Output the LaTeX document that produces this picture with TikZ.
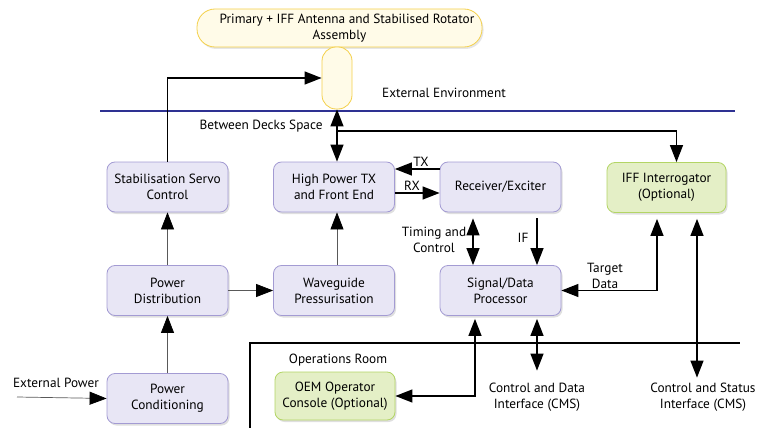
\documentclass[tikz,border=0pt]{standalone}
\usepackage{fontspec}
\setmainfont{PT Sans}
\usetikzlibrary{arrows.meta,calc,shadows}
\definecolor{boxfill}{HTML}{E8E6F5}
\definecolor{boxline}{HTML}{A39BD3}
\definecolor{grnfill}{HTML}{E4EFC6}
\definecolor{grnline}{HTML}{B3D565}
\definecolor{yelfill}{HTML}{FFFBE8}
\definecolor{yelline}{HTML}{F4D04A}
\definecolor{navyline}{HTML}{2E3192}
\begin{document}
\begin{tikzpicture}[x=1pt,y=-1pt,
  font=\fontsize{13.3}{16}\selectfont,
  tip/.tip={Triangle[length=17pt,width=13pt,color=black]},
  box/.style={draw=boxline, fill=boxfill, rounded corners=8pt, line width=0.8pt,
    minimum width=121pt, minimum height=50pt, align=center, inner sep=2pt,
    drop shadow={shadow xshift=1.5pt,shadow yshift=-2pt,opacity=0.25}},
  gbox/.style={box, draw=grnline, fill=grnfill},
  blk/.style={line width=1.3pt, black},
  gry/.style={line width=0.7pt, draw=black!65},
  lbl/.style={align=center, inner sep=0pt}]
\useasboundingbox (0,0) rectangle (769,428);
% lines
\draw[navyline, line width=1pt] (100,111) -- (735,111);
\coordinate (opsA) at (250,428);
\coordinate (opsB) at (250,343);
\coordinate (opsC) at (740,343);
\draw[blk] (opsA) -- (opsB) -- (opsC);
% antenna
\node[draw=yelline, fill=yelfill, line width=0.8pt, rounded corners=18pt,
  minimum width=285pt, minimum height=38pt, align=center, inner sep=2pt,
  drop shadow={shadow xshift=1.5pt,shadow yshift=-2pt,opacity=0.2}] (ant) at (339.5,28)
  {\hspace*{15pt}Primary + IFF Antenna and Stabilised Rotator\\Assembly};
\node[draw=yelline, fill=yelfill, line width=0.8pt, rounded corners=14pt,
  minimum width=30pt, minimum height=62pt, inner sep=0pt] (pill) at (337,78) {};
% boxes
\node[box] (ssc) at (167.5,187) {Stabilisation Servo\\Control};
\node[box] (hptx) at (334,187) {High Power TX\\and Front End};
\node[box] (rx) at (500.5,187) {Receiver/Exciter};
\node[gbox, minimum width=119pt] (iff) at (666.5,187.5) {IFF Interrogator\\(Optional)};
\node[box] (pd) at (167.5,290.5) {Power\\Distribution};
\node[box] (wp) at (334,290.5) {Waveguide\\Pressurisation};
\node[box] (sdp) at (500.5,290.5) {Signal/Data\\Processor};
\node[box] (pc) at (167.5,398.5) {Power\\Conditioning};
\node[gbox, minimum width=120pt, minimum height=48pt] (oem) at (335,396) {OEM Operator\\Console (Optional)};
% labels
\node[lbl] (extenv) at (444,93) {External Environment};
\node[lbl] (bds) at (261,126) {Between Decks Space};
\node[lbl] (opsroom) at (338,360) {Operations Room};
\node[lbl] (extpow) at (56,383) {External Power};
\node[lbl] (tclbl) at (434,240) {Timing and\\Control};
\node[lbl] (iflbl) at (523,238) {IF};
\node[lbl] (txlbl) at (421,162) {TX};
\node[lbl] (rxlbl) at (412,186) {RX};
\node[lbl] (tdlbl) at (605,276) {Target\\Data};
\node[lbl] (cds) at (537,397) {Control and Data\\Interface (CMS)};
\node[lbl] (css) at (703,397) {Control and Status\\Interface (CMS)};
\coordinate (extsrc) at (17,397);
% black connectors
\draw[blk, -tip] (ssc.north) |- (pill.west);
\draw[blk, tip-tip] (pill.south) -- (hptx.north -| pill.south);
\draw[blk, -tip] (pill.south |- 0,131) -| ($(iff.north)+(10,0)$);
\draw[blk, -tip] (rx.west |- 0,169) -- (hptx.east |- 0,169);
\draw[blk, -tip] (hptx.east |- 0,193) -- (rx.west |- 0,193);
\draw[blk, tip-tip, shorten <=6pt] (rx.south -| 473,0) -- (sdp.north -| 473,0);
\draw[blk, -tip, shorten <=6pt] (rx.south -| 537,0) -- (sdp.north -| 537,0);
\draw[blk, tip-tip, shorten <=6pt] (iff.south -| 657,0) |- (sdp.east);
\draw[blk, tip-tip, shorten <=6pt, shorten >=5pt] (iff.south -| 697,0) -- (css.north -| 697,0);
\draw[blk, tip-tip, shorten <=3pt, shorten >=12pt] (sdp.south -| 537,0) -- (cds.north -| 537,0);
\draw[blk, tip-tip, shorten <=3pt] (sdp.south -| 475,0) |- (oem.east);
% grey connectors
\draw[gry, -tip] (pd.north) -- (ssc.south);
\draw[gry, -tip] (pd.east) -- (wp.west);
\draw[gry, -tip] (wp.north -| pill.south) -- (hptx.south -| pill.south);
\draw[gry, -tip] (pc.north) -- (pd.south);
\draw[gry, -tip] (extsrc) -- (pc.west);
\end{tikzpicture}
\end{document}
